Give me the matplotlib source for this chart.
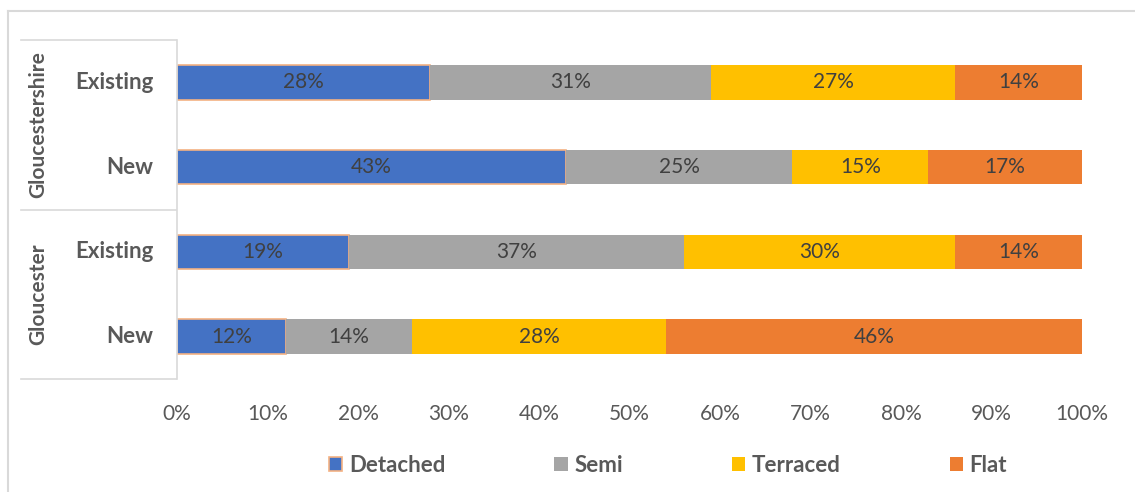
import numpy as np
import matplotlib.pyplot as plt
from matplotlib.lines import Line2D

plt.rcParams['font.family'] = ['Lato', 'DejaVu Sans']

# rows drawn top to bottom
rows = ['Existing', 'New', 'Existing', 'New']
groups = ['Gloucestershire', 'Gloucester']
types = ['Detached', 'Semi', 'Terraced', 'Flat']

detached = [28, 43, 19, 12]
semi = [31, 25, 37, 14]
terraced = [27, 15, 30, 28]
flat = [14, 17, 14, 46]

colors = ['#4472C4', '#A5A5A5', '#FFC000', '#ED7D31']
series = [detached, semi, terraced, flat]

W, H = 1135, 492
fig = plt.figure(figsize=(W / 100, H / 100), dpi=100)
ax = fig.add_axes([177 / W, 1 - 379 / H, (1082 - 177) / W, (379 - 40) / H])

ypos = np.arange(len(rows))[::-1]
left = np.zeros(len(rows))
for name, vals, col in zip(types, series, colors):
    vals = np.array(vals, dtype=float)
    if name == 'Detached':
        ax.barh(ypos, vals / 100, left=left / 100, height=0.41, color=col,
                edgecolor='#F4B183', linewidth=1.2, label=name)
    else:
        ax.barh(ypos, vals / 100, left=left / 100, height=0.41, color=col,
                linewidth=0, label=name)
    for y, l, v in zip(ypos, left, vals):
        ax.text((l + v / 2) / 100, y, f'{int(v)}%', ha='center', va='center',
                fontsize=15, color='#404040')
    left += vals

ax.set_xlim(0, 1)
ax.set_ylim(-0.5, 3.5)
ticks = np.arange(0, 1.01, 0.1)
ax.set_xticks(ticks)
ax.set_xticklabels([f'{int(round(t * 100))}%' for t in ticks])
ax.tick_params(axis='x', length=0, labelsize=15, labelcolor='#595959', pad=18)
ax.set_yticks([])
for s in ['top', 'right', 'bottom']:
    ax.spines[s].set_visible(False)
ax.spines['left'].set_color('#D9D9D9')
ax.spines['left'].set_linewidth(1.2)

# category labels and group box to the left of the axis
for y, r in zip(ypos, rows):
    ax.text(-0.026, y, r, transform=ax.get_yaxis_transform(), ha='right', va='center',
            fontsize=16, fontweight='bold', color='#595959')

box_x0 = 21 / W
box_x1 = 176 / W
for yp in [40, 210, 379]:
    fig.add_artist(Line2D([box_x0, box_x1], [1 - yp / H, 1 - yp / H], color='#D9D9D9', lw=1.2))
fig.text(38 / W, 1 - 125 / H, groups[0], rotation=90, ha='center', va='center',
         fontsize=15, fontweight='bold', color='#595959')
fig.text(38 / W, 1 - 294 / H, groups[1], rotation=90, ha='center', va='center',
         fontsize=15, fontweight='bold', color='#595959')

# outer chart border (left and top)
fig.add_artist(Line2D([8 / W, 8 / W], [0, 1 - 11 / H], color='#D9D9D9', lw=1.5))
fig.add_artist(Line2D([8 / W, 1], [1 - 11 / H, 1 - 11 / H], color='#D9D9D9', lw=1.5))

leg = fig.legend(loc='center', bbox_to_anchor=(668 / W, 1 - 465 / H), ncol=4,
                 frameon=False, handlelength=0.6, handleheight=0.6, handletextpad=0.3,
                 columnspacing=4.9, prop={'size': 16, 'weight': 'bold'})
for t in leg.get_texts():
    t.set_color('#595959')

fig.savefig('out.png', dpi=100)
